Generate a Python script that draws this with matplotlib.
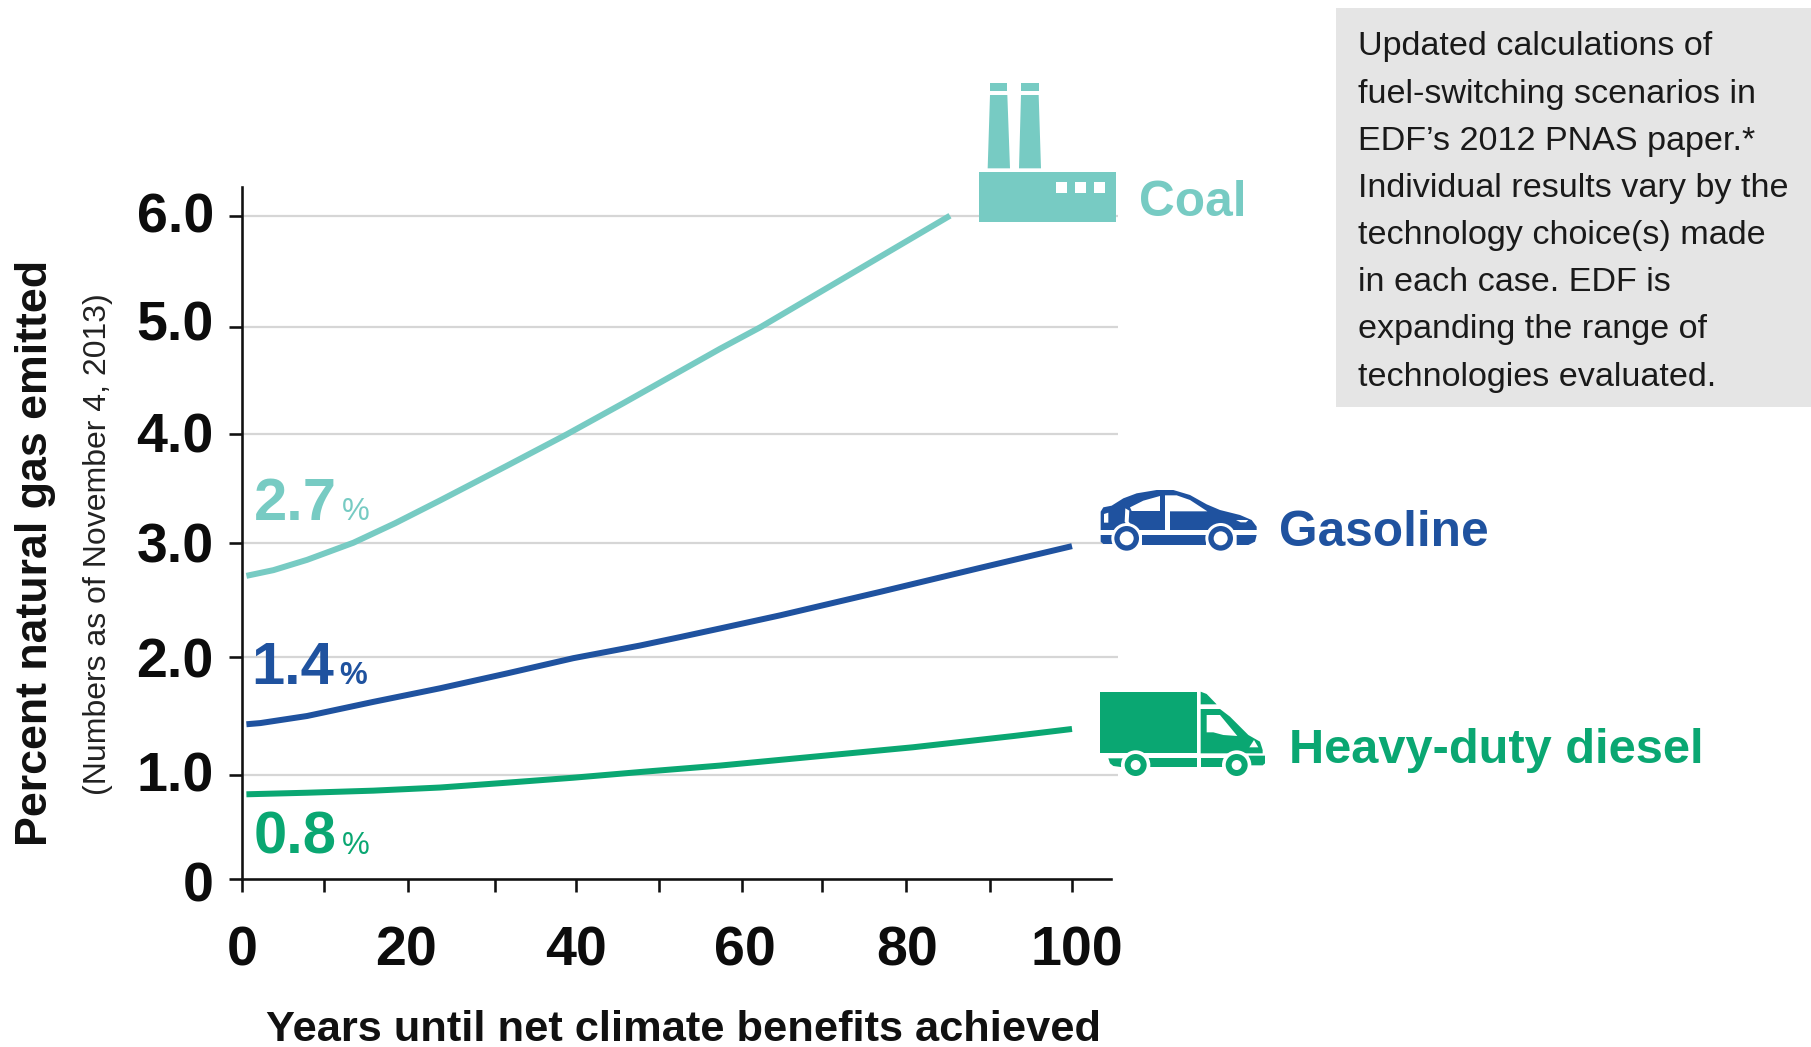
import numpy as np
import matplotlib
matplotlib.use("Agg")
import matplotlib.pyplot as plt
from matplotlib.patches import Polygon, Rectangle, Circle
from matplotlib.transforms import ScaledTranslation

plt.rcParams['font.family'] = ['Liberation Sans', 'DejaVu Sans']

# ---- data ----
coal_years = [0.5, 3.8, 7.9, 13.5, 18.5, 23.7, 31.4, 38.9, 45.7, 57.4, 62.3, 73.9, 85.2]
coal_pct = [2.71, 2.76, 2.85, 3.00, 3.18, 3.39, 3.708, 4.00, 4.29, 4.80, 5.00, 5.50, 6.00]
gas_years = [0.5, 2.2, 7.9, 15.9, 23.7, 31.4, 39.7, 47.7, 52.6, 57.4, 64.8, 76.9, 88.8, 100]
gas_pct = [1.43, 1.44, 1.50, 1.62, 1.735, 1.86, 1.99, 2.10, 2.175, 2.25, 2.365, 2.57, 2.78, 2.97]
diesel_years = [0.5, 7.9, 15.9, 23.7, 31.4, 39.7, 47.7, 57.4, 68.9, 80.8, 92.8, 100]
diesel_pct = [0.815, 0.83, 0.85, 0.88, 0.926, 0.974, 1.025, 1.08, 1.155, 1.235, 1.33, 1.39]

x_ticks = [0, 10, 20, 30, 40, 50, 60, 70, 80, 90, 100]
x_tick_labels = ['0', '', '20', '', '40', '', '60', '', '80', '', '100']
y_ticks = [0, 1, 2, 3, 4, 5, 6]
y_tick_labels = ['0', '1.0', '2.0', '3.0', '4.0', '5.0', '6.0']
note_lines = ["Updated calculations of", "fuel-switching scenarios in",
              "EDF\u2019s 2012 PNAS paper.*", "Individual results vary by the",
              "technology choice(s) made", "in each case. EDF is",
              "expanding the range of", "technologies evaluated."]

COAL, GAS, DIESEL = '#77cbc3', '#1f529f', '#0aa772'
W, H = 1811, 1047
px = 0.72  # points per pixel at dpi 100

# the printed axes are hand-spaced: their scales follow the printed tick positions
x_scale_v = np.array(x_ticks + [104.76, 105.6], float)
x_scale_p = np.array([242.3, 324.3, 407.7, 495.3, 575.7, 659, 741.7, 822.3, 906.3, 990.3, 1072, 1111, 1118.])
y_scale_v = np.array(y_ticks + [6.257], float)
y_scale_p = np.array([-879.3, -775, -657, -542.7, -434.3, -327.3, -215.7, -187.])

fig = plt.figure(figsize=(W / 100, H / 100), dpi=100, facecolor='white')
ax = fig.add_axes([242.3 / W, 1 - 879.3 / H, (1111 - 242.3) / W, (879.3 - 187) / H])
ax.set_xscale('function', functions=(lambda v: np.interp(v, x_scale_v, x_scale_p),
                                     lambda p: np.interp(p, x_scale_p, x_scale_v)))
ax.set_yscale('function', functions=(lambda v: np.interp(v, y_scale_v, y_scale_p),
                                     lambda p: np.interp(p, y_scale_p, y_scale_v)))
ax.set_xlim(0, 104.76)
ax.set_ylim(0, 6.257)
ax.patch.set_alpha(0)

ax.hlines(y_ticks[1:], 0, 105.6, colors='#d6d6d6', lw=2.2 * px, clip_on=False, zorder=1)
for xs, ys, c in [(coal_years, coal_pct, COAL), (gas_years, gas_pct, GAS), (diesel_years, diesel_pct, DIESEL)]:
    ax.plot(xs, ys, color=c, lw=6 * px, solid_capstyle='butt', solid_joinstyle='round', zorder=3)

for s in ['top', 'right']:
    ax.spines[s].set_visible(False)
for s in ['left', 'bottom']:
    ax.spines[s].set_linewidth(2.6 * px)
    ax.spines[s].set_color('#111111')
ax.set_xticks(x_ticks, x_tick_labels)
ax.set_yticks(y_ticks, y_tick_labels)
ax.xaxis.set_minor_locator(matplotlib.ticker.NullLocator())
ax.yaxis.set_minor_locator(matplotlib.ticker.NullLocator())
ax.tick_params(axis='x', length=13.5 * px, width=2.6 * px, color='#111111', pad=33 * px,
               labelsize=40, labelcolor='#0c0c0c')
ax.tick_params(axis='y', length=13.5 * px, width=2.6 * px, color='#111111', pad=15 * px,
               labelsize=40, labelcolor='#0c0c0c')
for t in ax.get_xticklabels() + ax.get_yticklabels():
    t.set_fontweight('bold')

# the printed labels sit a little off their ticks (pixels, + = up / right)
y_label_nudge = [-2, 3, 0, 0, 2, 7, 3.5]
x_label_nudge = [0, 0, -2, 0, 0, 0, 3, 0, 1, 0, 5]
for t, d in zip(ax.get_yticklabels(), y_label_nudge):
    t.set_transform(t.get_transform() + ScaledTranslation(0, d / 100, fig.dpi_scale_trans))
for t, d in zip(ax.get_xticklabels(), x_label_nudge):
    t.set_transform(t.get_transform() + ScaledTranslation(d / 100, 0, fig.dpi_scale_trans))

# overlay in pixel coordinates for annotation, icons and note
ov = fig.add_axes([0, 0, 1, 1])
ov.set_xlim(0, W)
ov.set_ylim(H, 0)
ov.axis('off')
ov.patch.set_alpha(0)

ov.add_patch(Rectangle((1336, 8), 475, 399, color='#e5e5e5', lw=0))
for i, line in enumerate(note_lines):
    ov.text(1358, 55.5 + i * 47.15, line, fontsize=24.6, color='#1a1a1a', va='baseline', ha='left')

ov.text(36, 553, 'Percent natural gas emitted', rotation=90, fontsize=32.2, fontweight='bold',
        ha='center', va='center', color='#111111')
ov.text(98, 544, '(Numbers as of November 4, 2013)', rotation=90, fontsize=23,
        ha='center', va='center', color='#222222')
ov.text(684, 1030, 'Years until net climate benefits achieved', fontsize=31.2, fontweight='bold',
        ha='center', va='center', color='#111111')

for (x0, yb, s, c, xp, w) in [(254, 520, '2.7', COAL, 342, 'normal'),
                              (251, 684, '1.4', GAS, 339, 'bold'),
                              (254, 854, '0.8', DIESEL, 342, 'normal')]:
    ov.text(x0, yb, s, color=c, fontsize=43, fontweight='bold', ha='left', va='baseline')
    ov.text(xp, yb, '%', color=c, fontsize=22.5, fontweight=w, ha='left', va='baseline')

ov.text(1139, 216, 'Coal', color=COAL, fontsize=35.7, fontweight='bold', va='baseline')
ov.text(1278.6, 546, 'Gasoline', color=GAS, fontsize=35.7, fontweight='bold', va='baseline')
ov.text(1289, 763, 'Heavy-duty diesel', color=DIESEL, fontsize=35.1, fontweight='bold', va='baseline')


def icon(ox, oy):
    def conv(pts):
        return [(ox + a / 3, oy + b / 3) for a, b in pts]

    def poly(pts, c, z=5):
        ov.add_patch(Polygon(conv(pts), closed=True, color=c, lw=0, zorder=z))

    def circ(a, b, r, c, z=6):
        ov.add_patch(Circle((ox + a / 3, oy + b / 3), r / 3, color=c, lw=0, zorder=z))

    def box(a0, b0, a1, b1, c, z=5):
        poly([(a0, b0), (a1, b0), (a1, b1), (a0, b1)], c, z)
    return poly, circ, box


# factory
poly, circ, box = icon(950, 60)
box(87, 335, 497, 485, COAL)
for a in (318, 375, 432):
    box(a, 365, a + 34, 398, 'white', 6)
box(120, 68, 172, 93, COAL)
box(213, 68, 266, 93, COAL)
poly([(120, 105), (172, 105), (180, 325), (113, 325)], COAL)
poly([(213, 105), (266, 105), (273, 325), (207, 325)], COAL)

# car
poly, circ, box = icon(1080, 470)
poly([(62, 180), (62, 125), (70, 112), (95, 107), (130, 85), (170, 70), (230, 60), (280, 60),
      (330, 75), (380, 103), (420, 120), (480, 135), (515, 150), (530, 170), (530, 180)], GAS)
poly([(62, 195), (105, 195), (105, 222), (70, 222), (62, 215)], GAS)
box(185, 195, 378, 225, GAS)
poly([(470, 195), (530, 195), (525, 215), (505, 225), (470, 225)], GAS)
poly([(150, 112), (190, 92), (240, 78), (240, 123), (155, 123)], 'white', 6)
poly([(136, 115), (148, 122), (146, 155), (165, 180), (152, 180), (134, 155)], 'white', 6)
poly([(255, 76), (290, 76), (330, 90), (382, 124), (255, 124)], 'white', 6)
box(255, 124, 271, 180, 'white', 6)
poly([(72, 132), (85, 128), (85, 158), (72, 158)], 'white', 6)
poly([(468, 150), (505, 150), (498, 157), (482, 157)], 'white', 6)
for a in (140, 422):
    circ(a, 205, 46, 'white', 6)
    circ(a, 205, 37, GAS, 7)
    circ(a, 205, 21, 'white', 8)

# truck
poly, circ, box = icon(1080, 670)
box(60, 65, 350, 250, DIESEL)
poly([(362, 65), (380, 72), (410, 103), (362, 103)], DIESEL)
poly([(362, 117), (420, 117), (450, 140), (505, 195), (540, 215), (548, 240), (548, 250), (362, 250)], DIESEL)
poly([(380, 135), (420, 135), (472, 198), (430, 195), (400, 187), (380, 187)], 'white', 6)
poly([(508, 232), (522, 210), (535, 232)], 'white', 6)
poly([(85, 265), (130, 265), (130, 292), (100, 288), (90, 280)], DIESEL)
box(200, 265, 350, 290, DIESEL)
box(362, 265, 435, 290, DIESEL)
poly([(505, 257), (555, 257), (555, 280), (548, 286), (510, 286)], DIESEL)
for a in (167, 470):
    circ(a, 285, 44, 'white', 6)
    circ(a, 285, 33, DIESEL, 7)
    circ(a, 285, 15, 'white', 8)

fig.savefig('out.png', dpi=100)
